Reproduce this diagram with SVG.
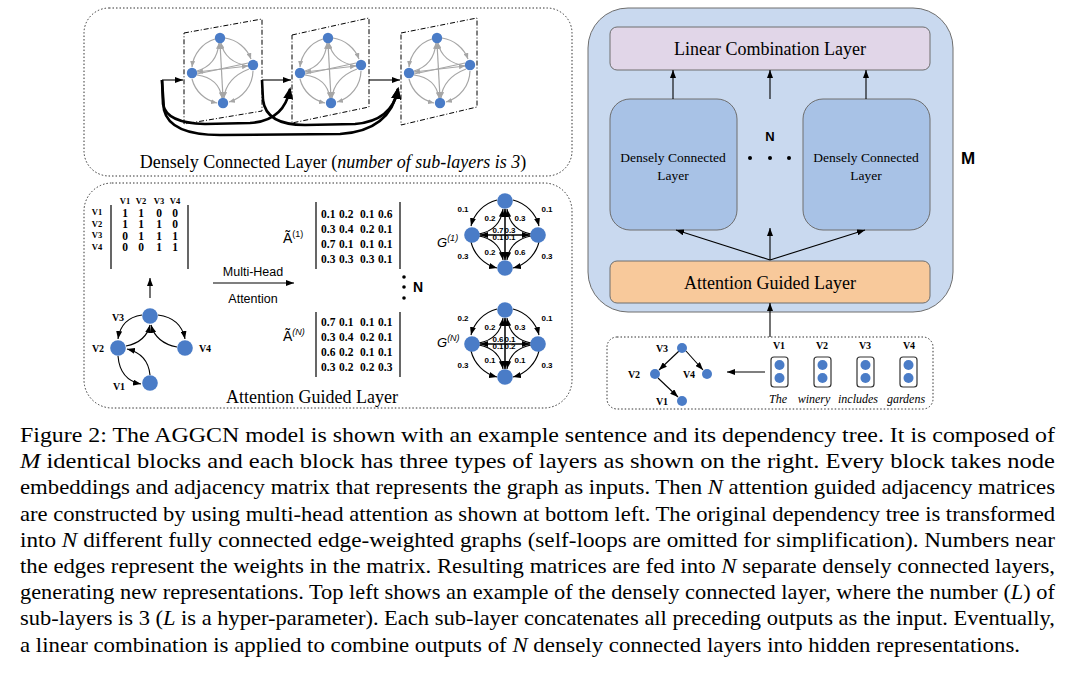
<svg xmlns="http://www.w3.org/2000/svg" width="1077" height="676" viewBox="0 0 1077 676">
<style>
.serif{font-family:"Liberation Serif","Times New Roman",serif;fill:#000}
.sans{font-family:"Liberation Sans",Arial,sans-serif;fill:#000}
.b{font-weight:bold}
.it{font-style:italic}
.dot{fill:none;stroke:#333;stroke-width:1;stroke-dasharray:1.5 2}
.node{fill:#4a7cc7}
.ge{fill:none;stroke:#a6a6a6;stroke-width:1.2}
.be{fill:none;stroke:#000;stroke-width:1.1}
.thick{fill:none;stroke:#000;stroke-width:2.6}
.panel{fill:none;stroke:#000;stroke-width:1;stroke-dasharray:5 2 1 2}
.bar{stroke:#000;stroke-width:1.2}
.cap{font-family:"Liberation Serif","Times New Roman",serif;font-size:22px;fill:#000}
.box{stroke:#6e6e6e;stroke-width:1}
</style>
<defs>
<marker id="ab" markerUnits="userSpaceOnUse" markerWidth="8" markerHeight="6" refX="8" refY="3" orient="auto-start-reverse"><path d="M0,0 L8,3 L0,6 z" fill="#000"/></marker>
<marker id="ag" markerUnits="userSpaceOnUse" markerWidth="6" markerHeight="5" refX="6" refY="2.5" orient="auto-start-reverse"><path d="M0,0 L6,2.5 L0,5 z" fill="#a6a6a6"/></marker>
<marker id="abig" markerUnits="userSpaceOnUse" markerWidth="12" markerHeight="10" refX="10" refY="5" orient="auto"><path d="M0,0 L12,5 L0,10 z" fill="#000"/></marker>
<g id="sub">
<path class="ge" marker-end="url(#ag)" d="M3,-32 A33,33 0 0 1 29,-11"/>
<path class="ge" marker-end="url(#ag)" d="M-7,-31 A33,33 0 0 0 -30,-3"/>
<path class="ge" marker-end="url(#ag)" d="M-30,9 A33,33 0 0 0 -5,33"/>
<path class="ge" marker-end="url(#ag)" d="M31,1 A33,33 0 0 1 7,32"/>
<path class="ge" marker-end="url(#ag)" d="M-25,1 Q-5,-5 -3,-27"/>
<path class="ge" marker-end="url(#ag)" d="M26,-4 Q3,-8 -1,-27"/>
<path class="ge" marker-end="url(#ag)" d="M-25,5 Q-3,8 0,28"/>
<path class="ge" marker-end="url(#ag)" d="M27,-1 Q4,8 2,28"/>
<path class="ge" marker-start="url(#ag)" marker-end="url(#ag)" d="M-2,-27 L1,28"/>
<path class="ge" marker-start="url(#ag)" marker-end="url(#ag)" d="M-25,2 L26,-4"/>
<path class="ge" d="M-25,4 L26,-7"/>
<circle class="node" cx="-2" cy="-32" r="5.2"/>
<circle class="node" cx="31" cy="-5" r="5.2"/>
<circle class="node" cx="-30" cy="3" r="5.2"/>
<circle class="node" cx="1" cy="33" r="5.2"/>
</g>
<g id="wg">
<path class="be" marker-end="url(#ab)" d="M-8,-34 A36,36 0 0 0 -34,-8"/>
<path class="be" marker-end="url(#ab)" d="M8,-34 A36,36 0 0 1 34,-8"/>
<path class="be" marker-end="url(#ab)" d="M-34,8 A36,36 0 0 0 -8,34"/>
<path class="be" marker-end="url(#ab)" d="M34,8 A36,36 0 0 1 8,34"/>
<path class="be" marker-end="url(#ab)" d="M-26,0 Q-5,-4 -2,-25"/>
<path class="be" marker-end="url(#ab)" d="M26,0 Q5,-4 2,-25"/>
<path class="be" marker-end="url(#ab)" d="M-26,2 Q-5,6 -2,26"/>
<path class="be" marker-end="url(#ab)" d="M26,2 Q5,6 2,26"/>
<path class="be" style="stroke-width:1.5" marker-start="url(#ab)" marker-end="url(#ab)" d="M0,-25 L0,26"/>
<path class="be" style="stroke-width:1.5" marker-start="url(#ab)" marker-end="url(#ab)" d="M-25,1 L25,1"/>
<circle class="node" cx="0" cy="-33" r="7.8"/>
<circle class="node" cx="-33" cy="1" r="7.8"/>
<circle class="node" cx="33" cy="1" r="7.8"/>
<circle class="node" cx="0" cy="34" r="7.8"/>
</g>
</defs>

<!-- Top-left: densely connected layer -->
<g id="dense-example">
<rect class="dot" x="84" y="8" width="488" height="168" rx="25"/>
<path class="panel" d="M184,33 L262,19 L262,111 L184,124 Z"/>
<path class="panel" d="M292,35 L369,18 L369,107 L292,123 Z"/>
<path class="panel" d="M401,33 L477,18 L477,107 L401,125 Z"/>
<use href="#sub" x="222" y="70"/>
<use href="#sub" x="330" y="70"/>
<use href="#sub" x="439" y="70"/>
<text class="serif" x="333" y="168" font-size="18" text-anchor="middle">Densely Connected Layer (<tspan class="it">number of sub-layers is 3</tspan>)</text>
</g>
<g id="dense-connectors">
<path class="be" marker-end="url(#ab)" d="M162,80 L183,80"/>
<path class="be" marker-end="url(#ab)" d="M262,80 L291,80"/>
<path class="be" marker-end="url(#ab)" d="M369,80 L400,80"/>
<path class="thick" marker-end="url(#abig)" d="M162,80 L163,104 Q166,123 205,124 L250,123 Q284,121 290,89"/>
<path class="thick" marker-end="url(#abig)" d="M162,80 L164,110 Q170,135 220,135 L340,134 Q390,131 398,89"/>
<path class="thick" marker-end="url(#abig)" d="M262,80 L263,100 Q266,125 305,125 L355,124 Q392,121 398,89"/>
</g>

<!-- Bottom-left: attention guided layer -->
<g id="attention-example">
<rect class="dot" x="84" y="183" width="488" height="225" rx="28"/>
<g class="serif b" font-size="8.5" text-anchor="middle">
<text y="204"><tspan x="125">V1</tspan><tspan x="141">V2</tspan><tspan x="159">V3</tspan><tspan x="175">V4</tspan></text>
<text><tspan x="97" y="215">V1</tspan><tspan x="97" y="226.5">V2</tspan><tspan x="97" y="238">V3</tspan><tspan x="97" y="249.5">V4</tspan></text>
</g>
<text class="serif b" font-size="11.5" text-anchor="middle"><tspan x="125" y="216.5">1</tspan><tspan x="141">1</tspan><tspan x="159">0</tspan><tspan x="175">0</tspan><tspan x="125" y="228">1</tspan><tspan x="141">1</tspan><tspan x="159">1</tspan><tspan x="175">0</tspan><tspan x="125" y="239.5">0</tspan><tspan x="141">1</tspan><tspan x="159">1</tspan><tspan x="175">1</tspan><tspan x="125" y="251">0</tspan><tspan x="141">0</tspan><tspan x="159">1</tspan><tspan x="175">1</tspan></text>
<line class="bar" x1="111" y1="205" x2="111" y2="269"/>
<line class="bar" x1="188" y1="205" x2="188" y2="269"/>
<path class="be" marker-end="url(#ab)" d="M150,298 L150,278"/>
<text class="sans" x="253" y="276" font-size="12.5" text-anchor="middle">Multi-Head</text>
<path class="be" marker-end="url(#ab)" d="M213,283 L294,283"/>
<text class="sans" x="253" y="303" font-size="12.5" text-anchor="middle">Attention</text>

<path class="be" marker-end="url(#ab)" d="M142,315 Q121,318 118,339"/>
<path class="be" marker-end="url(#ab)" d="M158,315 Q181,318 185,339"/>
<path class="be" marker-end="url(#ab)" d="M126,346 Q146,342 150,325"/>
<path class="be" marker-end="url(#ab)" d="M177,347 Q156,343 151,325"/>
<path class="be" marker-end="url(#ab)" d="M118,356 Q120,380 141,384"/>
<path class="be" marker-end="url(#ab)" d="M150,375 Q148,354 127,349"/>
<circle class="node" cx="150" cy="316" r="7.8"/>
<circle class="node" cx="118" cy="348" r="7.8"/>
<circle class="node" cx="185" cy="348" r="7.8"/>
<circle class="node" cx="150" cy="383" r="7.8"/>
<g class="serif b" font-size="10" text-anchor="middle">
<text x="118" y="321">V3</text><text x="98" y="352">V2</text><text x="205" y="352">V4</text><text x="119" y="390">V1</text>
</g>

<text class="sans" x="283" y="243" font-size="14">Ã<tspan font-size="9" dy="-6">(1)</tspan></text>
<text class="sans" x="283" y="341" font-size="14">Ã<tspan font-size="9" dy="-6" font-style="italic">(N)</tspan></text>
<line class="bar" x1="316" y1="202" x2="316" y2="269"/>
<line class="bar" x1="400" y1="202" x2="400" y2="269"/>
<line class="bar" x1="316" y1="312" x2="316" y2="377"/>
<line class="bar" x1="400" y1="312" x2="400" y2="377"/>
<text class="serif b" font-size="11.5"><tspan x="321" y="218">0.1</tspan><tspan x="339">0.2</tspan><tspan x="360">0.1</tspan><tspan x="378">0.6</tspan><tspan x="321" y="233">0.3</tspan><tspan x="339">0.4</tspan><tspan x="360">0.2</tspan><tspan x="378">0.1</tspan><tspan x="321" y="248">0.7</tspan><tspan x="339">0.1</tspan><tspan x="360">0.1</tspan><tspan x="378">0.1</tspan><tspan x="321" y="263">0.3</tspan><tspan x="339">0.3</tspan><tspan x="360">0.3</tspan><tspan x="378">0.1</tspan></text>
<text class="serif b" font-size="11.5"><tspan x="321" y="326">0.7</tspan><tspan x="339">0.1</tspan><tspan x="360">0.1</tspan><tspan x="378">0.1</tspan><tspan x="321" y="341">0.3</tspan><tspan x="339">0.4</tspan><tspan x="360">0.2</tspan><tspan x="378">0.1</tspan><tspan x="321" y="356">0.6</tspan><tspan x="339">0.2</tspan><tspan x="360">0.1</tspan><tspan x="378">0.1</tspan><tspan x="321" y="371">0.3</tspan><tspan x="339">0.2</tspan><tspan x="360">0.2</tspan><tspan x="378">0.3</tspan></text>
<circle cx="404" cy="277" r="1.8" fill="#000"/>
<circle cx="404" cy="287" r="1.8" fill="#000"/>
<circle cx="404" cy="298" r="1.8" fill="#000"/>
<text class="sans b" x="413" y="292" font-size="14">N</text>

<text class="sans it" x="437" y="247" font-size="13">G<tspan font-size="9" dy="-6">(1)</tspan></text>
<text class="sans it" x="437" y="347" font-size="13">G<tspan font-size="9" dy="-6">(N)</tspan></text>
<use href="#wg" x="505" y="234"/>
<use href="#wg" x="505" y="343"/>
<g class="sans b" font-size="8" text-anchor="middle">
<text x="463" y="212">0.1</text><text x="547" y="212">0.1</text>
<text x="490" y="221">0.2</text><text x="520" y="221">0.3</text>
<text x="498" y="233">0.7</text><text x="510" y="233">0.3</text>
<text x="498" y="240">0.1</text><text x="510" y="240">0.1</text>
<text x="490" y="255">0.2</text><text x="520" y="255">0.6</text>
<text x="463" y="259">0.3</text><text x="547" y="259">0.3</text>
<text x="463" y="321">0.2</text><text x="547" y="321">0.1</text>
<text x="490" y="330">0.2</text><text x="520" y="330">0.3</text>
<text x="498" y="342">0.6</text><text x="510" y="342">0.1</text>
<text x="498" y="349">0.1</text><text x="510" y="349">0.2</text>
<text x="490" y="363">0.1</text><text x="520" y="363">0.1</text>
<text x="463" y="368">0.3</text><text x="547" y="368">0.3</text>
</g>
<text class="serif" x="312" y="403" font-size="18" text-anchor="middle">Attention Guided Layer</text>
</g>

<!-- Right: block -->
<g id="block">
<rect x="588" y="8" width="365" height="304" rx="40" fill="#c9d9ef" stroke="#6e6e6e" stroke-width="1"/>
<text class="sans b" x="968" y="164" font-size="17" text-anchor="middle">M</text>
</g>
<g id="linear-combination">
<rect class="box" x="610" y="27" width="320" height="43" rx="7" fill="#e1d6e8"/>
<text class="serif" x="770" y="55" font-size="18" text-anchor="middle">Linear Combination Layer</text>
</g>
<g id="dcl-1">
<rect class="box" x="610" y="99" width="127" height="131" rx="20" fill="#a8c2e6"/>
<text class="serif" x="673" y="162" font-size="13.5" text-anchor="middle">Densely Connected</text>
<text class="serif" x="673" y="180" font-size="13.5" text-anchor="middle">Layer</text>
</g>
<g id="dcl-n">
<rect class="box" x="803" y="99" width="127" height="131" rx="20" fill="#a8c2e6"/>
<text class="serif" x="866" y="162" font-size="13.5" text-anchor="middle">Densely Connected</text>
<text class="serif" x="866" y="180" font-size="13.5" text-anchor="middle">Layer</text>
</g>
<g id="n-dots">
<text class="sans b" x="770" y="141" font-size="13" text-anchor="middle">N</text>
<circle cx="750" cy="158" r="2" fill="#000"/>
<circle cx="770" cy="158" r="2" fill="#000"/>
<circle cx="789" cy="158" r="2" fill="#000"/>
</g>
<g id="attention-guided">
<rect class="box" x="610" y="261" width="320" height="42" rx="7" fill="#f8c99b"/>
<text class="serif" x="770" y="289" font-size="18" text-anchor="middle">Attention Guided Layer</text>
</g>
<g id="block-connectors">
<path class="be" marker-end="url(#ab)" d="M673,99 L673,70"/>
<path class="be" marker-end="url(#ab)" d="M770,99 L770,70"/>
<path class="be" marker-end="url(#ab)" d="M866,99 L866,70"/>
<path class="be" marker-end="url(#ab)" d="M770,260 L676,230"/>
<path class="be" marker-end="url(#ab)" d="M770,260 L770,228"/>
<path class="be" marker-end="url(#ab)" d="M770,260 L865,230"/>
<path class="be" marker-end="url(#ab)" d="M770,337 L770,303"/>
</g>

<!-- Input sentence -->
<g id="input">
<rect class="dot" x="607" y="337" width="326" height="72" rx="10"/>
<path class="be" marker-end="url(#ab)" d="M679,351 L659,370"/>
<path class="be" marker-end="url(#ab)" d="M686,351 L703,370"/>
<path class="be" marker-end="url(#ab)" d="M658,378 L678,397"/>
<circle class="node" cx="682" cy="348" r="5"/>
<circle class="node" cx="655" cy="374" r="5"/>
<circle class="node" cx="707" cy="374" r="5"/>
<circle class="node" cx="682" cy="401" r="5"/>
<g class="serif b" font-size="10" text-anchor="middle">
<text x="662" y="352">V3</text><text x="634" y="378">V2</text><text x="689" y="378">V4</text><text x="662" y="405">V1</text>
<text x="779" y="349">V1</text><text x="822" y="349">V2</text><text x="865" y="349">V3</text><text x="909" y="349">V4</text>
</g>
<path class="be" marker-end="url(#ab)" d="M765,372 L727,372"/>
<g>
<rect x="771" y="357" width="17" height="30" rx="3" fill="none" stroke="#333" stroke-width="1.2"/>
<rect x="814" y="357" width="17" height="30" rx="3" fill="none" stroke="#333" stroke-width="1.2"/>
<rect x="857" y="357" width="17" height="30" rx="3" fill="none" stroke="#333" stroke-width="1.2"/>
<rect x="900" y="357" width="17" height="30" rx="3" fill="none" stroke="#333" stroke-width="1.2"/>
<circle class="node" cx="779.5" cy="365" r="5"/><circle class="node" cx="779.5" cy="378" r="5"/>
<circle class="node" cx="822.5" cy="365" r="5"/><circle class="node" cx="822.5" cy="378" r="5"/>
<circle class="node" cx="865.5" cy="365" r="5"/><circle class="node" cx="865.5" cy="378" r="5"/>
<circle class="node" cx="908.5" cy="365" r="5"/><circle class="node" cx="908.5" cy="378" r="5"/>
</g>
<g class="serif it" font-size="12" text-anchor="middle">
<text x="778" y="403">The</text><text x="814" y="403">winery</text><text x="858" y="403">includes</text><text x="906" y="403">gardens</text>
</g>
</g>

<!-- Caption -->
<g id="caption">
<text class="cap" x="20" y="442" textLength="1035" lengthAdjust="spacingAndGlyphs">Figure 2: The AGGCN model is shown with an example sentence and its dependency tree.  It is composed of</text>
<text class="cap" x="20" y="468" textLength="1035" lengthAdjust="spacingAndGlyphs"><tspan font-style="italic">M</tspan> identical blocks and each block has three types of layers as shown on the right.  Every block takes node</text>
<text class="cap" x="20" y="494" textLength="1035" lengthAdjust="spacingAndGlyphs">embeddings and adjacency matrix that represents the graph as inputs. Then <tspan font-style="italic">N</tspan> attention guided adjacency matrices</text>
<text class="cap" x="20" y="521" textLength="1035" lengthAdjust="spacingAndGlyphs">are constructed by using multi-head attention as shown at bottom left. The original dependency tree is transformed</text>
<text class="cap" x="20" y="547" textLength="1035" lengthAdjust="spacingAndGlyphs">into <tspan font-style="italic">N</tspan> different fully connected edge-weighted graphs (self-loops are omitted for simplification).  Numbers near</text>
<text class="cap" x="20" y="573" textLength="1035" lengthAdjust="spacingAndGlyphs">the edges represent the weights in the matrix. Resulting matrices are fed into <tspan font-style="italic">N</tspan> separate densely connected layers,</text>
<text class="cap" x="20" y="599" textLength="1035" lengthAdjust="spacingAndGlyphs">generating new representations. Top left shows an example of the densely connected layer, where the number (<tspan font-style="italic">L</tspan>) of</text>
<text class="cap" x="20" y="625" textLength="1035" lengthAdjust="spacingAndGlyphs">sub-layers is 3 (<tspan font-style="italic">L</tspan> is a hyper-parameter). Each sub-layer concatenates all preceding outputs as the input. Eventually,</text>
<text class="cap" x="20" y="652" textLength="1000" lengthAdjust="spacingAndGlyphs">a linear combination is applied to combine outputs of <tspan font-style="italic">N</tspan> densely connected layers into hidden representations.</text>
</g>
</svg>
